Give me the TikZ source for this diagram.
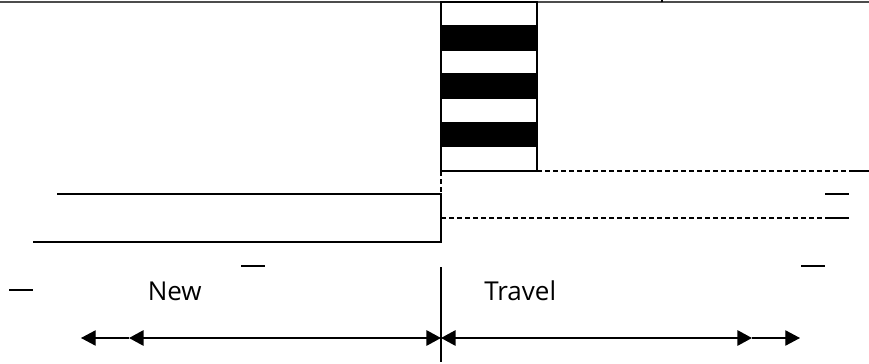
\documentclass[tikz,border=0pt]{standalone}
\usepackage{fontspec}
\setmainfont{Open Sans}
\usetikzlibrary{arrows.meta}
\tikzset{
  x=0.75pt,y=-0.75pt,
  ln/.style={line width=1.3pt,black},
  thinln/.style={line width=1.1pt,black},
  dashln/.style={line width=1.2pt,black,dash pattern=on 4pt off 2pt},
  tipone/.style={-{Triangle[length=11pt,width=11.5pt]}},
  tipboth/.style={{Triangle[length=11pt,width=11.5pt]}-{Triangle[length=11pt,width=11.5pt]}},
  lab/.style={font=\fontsize{19.5pt}{22pt}\selectfont,inner sep=0pt,anchor=base west}
}
\begin{document}
\begin{tikzpicture}
\useasboundingbox[fill=white] (0,0) rectangle (869,364);
% top rule
\coordinate (tl) at (0,2); \coordinate (tr) at (869,2);
\draw[line width=1.2pt,black!70] (tl) -- (tr);
\coordinate (tk) at (662,0); \coordinate (tk2) at (662,2);
\draw[line width=1.3pt] (tk) -- (tk2);
% striped box
\coordinate (b1) at (441,2); \coordinate (b2) at (537,171);
\foreach \a/\b in {25/51,73/99,122/147}{\fill[black] (441,\a) rectangle (537,\b);}
\draw[ln] (b1) rectangle (b2);
% dashed
\coordinate (c0) at (441,171); \coordinate (c1) at (849,171); \coordinate (c2) at (869,171);
\draw[dashln] (b2) -- (c1);
\draw[ln] (c1) -- (c2);
\coordinate (d0) at (441,218); \coordinate (d1) at (825,218); \coordinate (d2) at (849,218);
\draw[dashln] (d0) -- (d1);
\draw[ln] (d1) -- (d2);
\coordinate (v1) at (441,194);
\draw[dashln] (c0) -- (v1);
% solid left
\coordinate (e0) at (57,194); \coordinate (e1) at (81,194);
\coordinate (f0) at (33,242); \coordinate (f1) at (57,242); \coordinate (v2) at (441,242);
\draw[line width=1.7pt] (e0) -- (e1);
\draw[line width=1.7pt] (f0) -- (f1);
\draw[ln] (e1) -- (v1) -- (v2) -- (f1);
% short dashes
\coordinate (s1a) at (825,194); \coordinate (s1b) at (849,194);
\coordinate (s2a) at (801,266); \coordinate (s2b) at (825,266);
\coordinate (s3a) at (241,266); \coordinate (s3b) at (265,266);
\coordinate (s4a) at (9,290); \coordinate (s4b) at (33,290);
\draw[thinln] (s1a) -- (s1b);
\draw[thinln] (s2a) -- (s2b);
\draw[thinln] (s3a) -- (s3b);
\draw[thinln] (s4a) -- (s4b);
% vertical divider
\coordinate (w1) at (441,267); \coordinate (w2) at (441,362);
\draw[ln] (w1) -- (w2);
% arrows
\coordinate (aL) at (81,338); \coordinate (aM) at (129,338); \coordinate (aC) at (441,338);
\coordinate (aN) at (752,338); \coordinate (aR) at (800,338);
\draw[line width=0.9pt,tipone] (aM) -- (aL);
\draw[line width=1.6pt,tipboth] (aM) -- (aC);
\draw[line width=1.6pt,tipboth] (aC) -- (aN);
\draw[line width=0.9pt,tipone] (aN) -- (aR);
% labels
\node[lab] (new) at (147.5,300) {New};
\node[lab] (travel) at (484,300) {Travel};
\end{tikzpicture}
\end{document}
